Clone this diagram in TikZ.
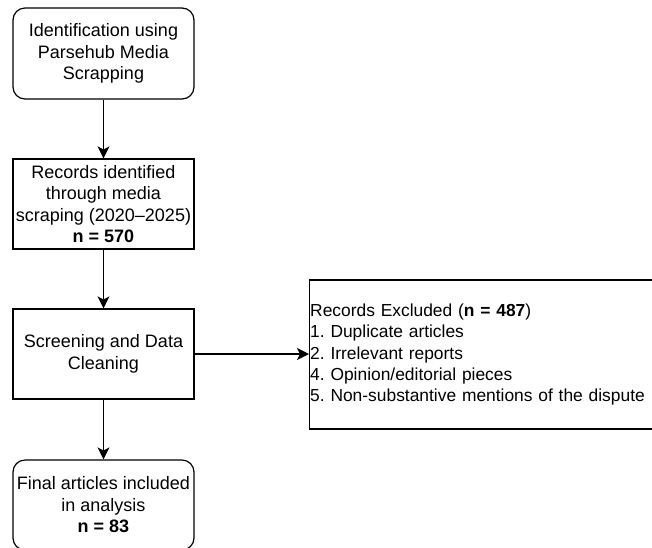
\documentclass[tikz,border=0pt]{standalone}
\usepackage{fontspec}
\setmainfont{Liberation Sans}
\usetikzlibrary{arrows.meta}
\frenchspacing

\begin{document}
\begin{tikzpicture}[x=1pt,y=-1pt,
  every node/.style={font=\fontsize{18}{21.5}\selectfont},
  roundbox/.style={draw,line width=1.2pt,rounded corners=12pt,minimum width=181pt,align=center,inner sep=1pt},
  squarebox/.style={draw,line width=1.2pt,minimum width=181pt,align=center,inner sep=1pt},
  flow/.style={line width=1.2pt,-{Stealth[length=12pt,width=12pt,inset=3pt]}}]

\useasboundingbox (0,0) rectangle (652,547);
\clip (0,0) rectangle (652,547);

% main column
\node[roundbox,minimum height=91pt] (ident) at (103.5,53.5) {Identification using\\Parsehub Media\\Scrapping};
\node[squarebox,minimum height=90pt] (records) at (103.5,204) {Records identified\\through media\\scraping (2020--2025)\\\textbf{n = 570}};
\node[squarebox,minimum height=90pt] (screen) at (103.5,354) {Screening and Data\\Cleaning};
\node[roundbox,minimum height=90pt] (final) at (103.5,505) {Final articles included\\in analysis\\\textbf{n = 83}};

% excluded box
\node[draw,line width=1.2pt,anchor=west,minimum height=149pt,text width=420pt,align=left,inner xsep=0.6pt,
  font=\fontsize{17.4}{21.3}\selectfont] (excl) at (309,354.5)
  {Records Excluded (\textbf{n = 487})\\1. Duplicate articles\\2. Irrelevant reports\\4. Opinion/editorial pieces\\5. Non-substantive mentions of the dispute};

\draw[flow] (ident) -- (records);
\draw[flow] (records) -- (screen);
\draw[flow] (screen) -- (final);
\draw[flow] (screen.east) -- (excl.west |- screen.east);

\end{tikzpicture}
\end{document}
